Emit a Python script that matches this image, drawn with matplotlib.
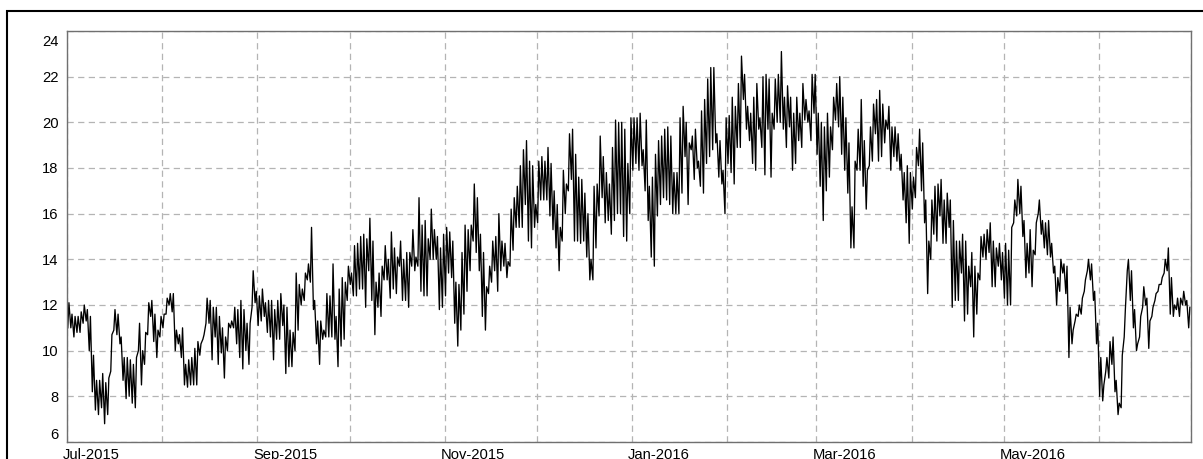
import numpy as np
import matplotlib
matplotlib.use('Agg')
import matplotlib.pyplot as plt
import matplotlib.dates as mdates
from matplotlib.ticker import FuncFormatter
from matplotlib.patches import Rectangle
from matplotlib.transforms import ScaledTranslation

plt.rcParams['font.family'] = ['Liberation Sans', 'DejaVu Sans']

# daily high / low values, Jul 2015 - Jun 2016
jul_hi = [12.1, 11.6, 11.5, 11.5, 11.7, 12.0, 11.8, 11.5, 9.8, 8.7, 8.7, 9.0, 8.6, 8.8, 10.7, 11.8,
          11.6, 10.6, 9.7, 9.7, 9.6, 9.4, 9.7, 11.2, 10.0, 10.8, 12.1, 12.2, 11.6, 10.9, 11.5]
jul_lo = [11.0, 11.0, 10.6, 10.8, 10.8, 11.2, 11.3, 10.0, 8.2, 7.4, 7.2, 7.5, 6.8, 7.2, 9.1, 10.9,
          10.7, 10.3, 8.7, 7.9, 8.0, 7.7, 7.5, 10.0, 8.5, 9.4, 10.7, 11.5, 10.4, 9.7, 10.6]

aug_hi = [11.6, 12.3, 12.5, 12.5, 10.9, 10.7, 11.0, 9.4, 9.6, 9.7, 10.1, 10.4, 10.3, 10.7, 12.3, 12.2,
          11.9, 11.9, 11.5, 11.0, 10.6, 11.2, 11.3, 11.9, 11.8, 12.2, 11.8, 11.2, 11.2, 13.5, 12.6]
aug_lo = [11.0, 11.6, 12.0, 11.7, 10.0, 10.3, 9.7, 8.5, 8.4, 8.5, 8.5, 8.5, 9.8, 10.5, 11.2, 11.2,
          9.6, 10.6, 9.4, 9.9, 8.8, 10.0, 11.0, 11.0, 10.3, 9.7, 9.2, 10.0, 9.4, 11.9, 12.1]

sep_hi = [12.4, 12.7, 12.1, 12.2, 12.2, 11.8, 12.2, 12.5, 12.0, 11.9, 10.9, 10.8, 13.4, 12.9, 12.7,
          13.4, 13.8, 15.4, 12.2, 11.3, 11.3, 10.9, 12.5, 12.4, 13.8, 11.5, 12.7, 13.2, 13.0, 13.7]
sep_lo = [11.1, 11.3, 11.5, 10.8, 10.6, 9.6, 10.5, 10.5, 11.1, 9.0, 9.3, 9.3, 10.0, 10.9, 12.0,
          12.2, 13.1, 13.0, 11.8, 10.3, 9.4, 10.5, 10.6, 10.6, 10.6, 10.5, 9.3, 10.2, 10.5, 12.2]

oct_hi = [13.4, 14.6, 14.7, 15.0, 15.1, 14.9, 15.8, 14.8, 13.0, 13.4, 13.7, 14.6, 14.0, 15.2, 14.5, 14.1,
          14.8, 14.0, 14.3, 14.3, 15.3, 14.1, 16.7, 15.5, 15.7, 14.9, 16.2, 15.3, 15.0, 14.5, 15.1]
oct_lo = [12.9, 12.4, 12.4, 12.7, 12.7, 11.9, 13.5, 12.2, 10.7, 11.9, 11.5, 13.1, 13.1, 12.3, 12.7, 12.5,
          13.7, 12.2, 12.2, 11.9, 13.7, 13.5, 13.7, 12.6, 12.4, 12.4, 14.0, 14.0, 14.0, 11.8, 11.9]

nov_hi = [15.4, 15.2, 14.8, 13.0, 12.9, 14.3, 15.5, 15.3, 15.5, 17.3, 16.7, 15.1, 14.3, 12.8, 13.7,
          14.8, 15.0, 16.0, 14.8, 14.7, 13.9, 16.2, 16.7, 17.2, 18.1, 18.8, 19.2, 18.3, 18.1, 16.4]
nov_lo = [12.4, 13.4, 13.2, 11.2, 10.2, 10.9, 11.6, 12.6, 13.5, 14.8, 14.3, 13.5, 11.5, 10.9, 12.5,
          13.0, 13.5, 12.6, 13.5, 13.7, 13.2, 13.7, 14.4, 15.4, 15.4, 15.4, 16.4, 14.8, 14.5, 15.4]

dec_hi = [18.3, 18.5, 18.3, 18.9, 18.2, 17.0, 16.4, 15.4, 17.9, 17.3, 19.5, 19.7, 18.6, 17.6, 17.5, 16.9,
          16.0, 14.0, 17.2, 17.3, 19.4, 18.5, 17.8, 17.3, 18.9, 20.1, 20.0, 20.0, 19.7, 18.2, 20.2]
dec_lo = [15.6, 16.6, 16.6, 16.6, 15.9, 15.3, 14.5, 13.5, 14.8, 16.0, 17.0, 17.5, 14.8, 14.8, 14.7, 14.8,
          14.1, 13.1, 13.1, 14.5, 15.9, 16.7, 15.6, 15.7, 15.1, 15.7, 16.0, 16.0, 15.0, 14.8, 16.0]

jan_hi = [20.2, 20.2, 20.4, 18.8, 20.1, 17.2, 17.6, 18.6, 19.2, 19.4, 19.7, 19.8, 19.4, 17.8, 17.8, 20.2,
          20.7, 20.0, 19.1, 19.4, 19.7, 18.3, 20.5, 21.0, 21.9, 22.4, 22.4, 19.5, 19.2, 17.9, 20.2]
jan_lo = [17.9, 18.2, 17.9, 18.1, 17.0, 15.7, 14.1, 13.7, 15.9, 16.4, 16.7, 16.6, 16.4, 16.0, 16.0, 16.0,
          16.9, 18.5, 16.4, 18.8, 17.5, 18.0, 17.2, 16.9, 18.2, 18.5, 18.8, 19.1, 17.6, 17.3, 16.0]

feb_hi = [20.3, 21.1, 20.7, 21.7, 22.9, 22.1, 20.7, 20.4, 21.1, 21.7, 20.2, 22.0, 22.1, 21.9, 20.4,
          21.9, 22.1, 23.1, 21.1, 21.6, 21.1, 20.4, 21.1, 20.4, 21.7, 21.0, 20.5, 22.1, 22.1]
feb_lo = [18.2, 17.8, 17.3, 18.9, 18.9, 21.0, 19.7, 19.2, 18.2, 17.9, 19.7, 18.9, 17.7, 19.7, 17.6,
          19.7, 20.0, 20.0, 19.7, 18.9, 19.8, 17.9, 18.2, 19.2, 18.9, 20.1, 20.0, 19.2, 20.4]

mar_hi = [20.4, 20.0, 19.8, 20.4, 19.8, 21.1, 21.7, 22.0, 21.1, 20.2, 19.1, 16.3, 18.3, 19.7, 21.0, 19.2,
          17.9, 19.8, 20.8, 21.0, 21.4, 20.8, 20.1, 20.7, 19.8, 19.8, 19.5, 18.6, 17.8, 18.1, 17.8]
mar_lo = [18.6, 17.2, 15.7, 17.0, 17.6, 18.8, 20.1, 19.8, 18.6, 17.9, 16.9, 14.5, 14.5, 17.9, 17.9, 17.2,
          16.2, 18.1, 18.3, 19.5, 18.3, 18.5, 19.1, 19.7, 17.9, 18.5, 18.3, 17.9, 16.6, 15.6, 14.7]

apr_hi = [17.6, 18.9, 19.7, 19.1, 16.6, 14.8, 16.6, 17.2, 17.3, 17.5, 16.6, 16.9, 16.6, 15.7, 14.8,
          14.8, 15.1, 14.8, 13.7, 14.3, 13.7, 13.4, 15.0, 15.1, 15.3, 15.6, 14.8, 14.5, 14.7, 14.3]
apr_lo = [16.2, 16.7, 18.1, 17.0, 15.6, 12.5, 14.0, 15.1, 14.8, 15.9, 14.7, 14.7, 15.4, 11.9, 12.2,
          12.2, 13.4, 11.3, 11.6, 12.8, 10.6, 11.6, 13.1, 14.1, 14.0, 14.3, 12.8, 12.8, 13.7, 13.1]

may_hi = [14.7, 14.4, 15.4, 16.6, 17.5, 17.2, 15.7, 14.7, 15.3, 14.4, 15.6, 16.6, 15.7, 15.6, 15.7, 14.7,
          13.7, 13.2, 14.0, 13.8, 13.7, 11.9, 10.9, 11.6, 12.0, 12.3, 13.1, 14.0, 13.8, 12.6, 11.2]
may_lo = [12.3, 12.0, 12.0, 15.6, 15.9, 16.0, 15.0, 13.2, 13.4, 12.8, 14.2, 16.0, 15.1, 14.5, 14.2, 14.1,
          13.4, 12.0, 12.6, 13.4, 12.5, 9.7, 10.3, 11.3, 11.5, 11.6, 12.6, 13.5, 13.1, 12.2, 10.3]

jun_hi = [9.7, 8.5, 9.7, 10.4, 10.6, 8.7, 7.7, 9.8, 11.8, 14.0, 13.5, 11.8, 10.3, 11.5, 12.8,
          12.3, 11.3, 11.9, 12.5, 12.9, 13.2, 14.0, 14.5, 13.2, 12.0, 12.3, 12.3, 12.6, 12.2, 11.9]
jun_lo = [8.0, 7.8, 9.1, 8.8, 9.4, 8.2, 7.2, 7.5, 10.6, 13.5, 12.2, 11.0, 10.0, 10.6, 11.9,
          12.0, 10.1, 11.5, 12.2, 12.6, 12.9, 13.4, 13.5, 11.6, 11.5, 11.8, 11.5, 12.0, 12.0, 11.0]

hi = np.concatenate([jul_hi, aug_hi, sep_hi, oct_hi, nov_hi, dec_hi,
                     jan_hi, feb_hi, mar_hi, apr_hi, may_hi, jun_hi])
lo = np.concatenate([jul_lo, aug_lo, sep_lo, oct_lo, nov_lo, dec_lo,
                     jan_lo, feb_lo, mar_lo, apr_lo, may_lo, jun_lo])

# low in the early morning, high in the afternoon of each day
start = np.datetime64('2015-07-01T00:00')
days = np.arange(len(hi))
t_lo = start + (days * 24 + 6).astype('timedelta64[h]')
t_hi = start + (days * 24 + 15).astype('timedelta64[h]')
t = np.stack([t_lo, t_hi], axis=1).ravel()
v = np.stack([lo, hi], axis=1).ravel()

W, H = 1203, 459
fig = plt.figure(figsize=(W / 100, H / 100), dpi=100)
fig.patch.set_facecolor('white')
ax = fig.add_axes([67 / W, 1 - 442 / H, (1191 - 67) / W, (442 - 31) / H])

ax.plot(t, v, color='black', lw=0.95)

ax.set_xlim(np.datetime64('2015-07-01'), np.datetime64('2016-07-01'))
ax.set_ylim(6, 24)
ax.set_yticks(np.arange(6, 25, 2))


def month_label(x, pos):
    d = mdates.num2date(x)
    if d.month % 2 == 1 and not (d.year == 2016 and d.month == 7):
        return d.strftime('%b-%Y')
    return ''


ax.xaxis.set_major_locator(mdates.MonthLocator())
ax.xaxis.set_major_formatter(FuncFormatter(month_label))

ax.grid(True, color='#b4b4b4', linestyle=(0, (5, 3.5)), lw=0.9)
ax.set_axisbelow(True)
ax.tick_params(axis='both', length=0, labelsize=10.6, colors='black')
ax.tick_params(axis='x', pad=4)
ax.tick_params(axis='y', pad=6)
for s in ax.spines.values():
    s.set_color('#707070')
    s.set_linewidth(1)

# x labels start just left of their tick
shift = ScaledTranslation(-4 / 100, 0, fig.dpi_scale_trans)
for lbl in ax.get_xticklabels():
    lbl.set_ha('left')
    lbl.set_transform(lbl.get_transform() + shift)

# end labels of the y axis are pushed inside the plot range
yt = ax.yaxis.get_major_ticks()
yt[0].label1.set_va('bottom')
yt[-1].label1.set_va('top')
down = ScaledTranslation(0, -4 / 100, fig.dpi_scale_trans)
yt[-1].label1.set_transform(yt[-1].label1.get_transform() + down)

# outer frame
fig.patches.append(Rectangle((7 / W, -0.2), 1.2, 1.2 - 11 / H, transform=fig.transFigure,
                             fill=False, ec='black', lw=1.5))

fig.savefig('out.png', dpi=100)
